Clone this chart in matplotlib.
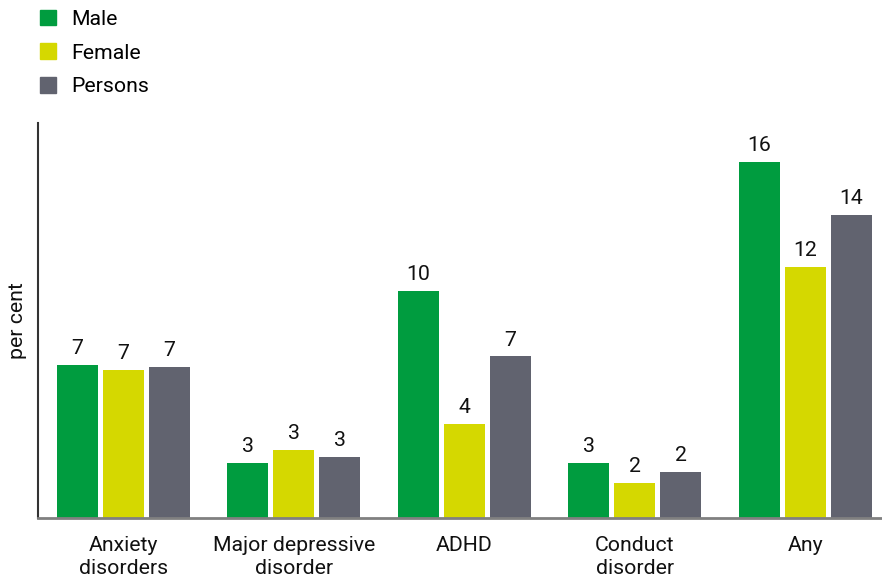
import matplotlib.pyplot as plt
import numpy as np
from matplotlib.patches import Patch

plt.rcParams['font.family'] = ['Roboto', 'DejaVu Sans']

# Data (per cent)
categories = ['Anxiety\ndisorders', 'Major depressive\ndisorder', 'ADHD', 'Conduct\ndisorder', 'Any']
male = [7.0, 2.5, 10.4, 2.5, 16.3]
female = [6.8, 3.1, 4.3, 1.6, 11.5]
persons = [6.9, 2.8, 7.4, 2.1, 13.9]

series = {'Male': male, 'Female': female, 'Persons': persons}
colors = ['#009c3f', '#d5d800', '#61636f']
fs = 15.3

fig = plt.figure(figsize=(8.82, 5.8), dpi=100)
ax = fig.add_axes([0.043, 0.107, 0.957, 0.681])

x = np.arange(len(categories))
bar_width = 0.24
step = 0.27

for i, (name, vals) in enumerate(series.items()):
    bars = ax.bar(x + (i - 1) * step, vals, bar_width, color=colors[i], label=name)
    labels = [str(int(np.floor(v + 0.5))) for v in vals]
    ax.bar_label(bars, labels=labels, padding=5, fontsize=fs, color='#111111')

ax.set_xlim(-0.501, 4.449)
ax.set_ylim(0, 18.1)
ax.set_xticks(x)
ax.set_xticklabels(categories, fontsize=fs, color='#111111', linespacing=1.25)
ax.set_yticks([])
ax.tick_params(axis='x', length=0, pad=13)
ax.set_ylabel('per cent', fontsize=fs, color='#111111', labelpad=8)

for s in ['top', 'right']:
    ax.spines[s].set_visible(False)
ax.spines['left'].set_color('#333333')
ax.spines['left'].set_linewidth(1.5)
ax.spines['bottom'].set_color('#808080')
ax.spines['bottom'].set_linewidth(2)

handles = [Patch(color=c, label=n) for n, c in zip(series.keys(), colors)]
fig.legend(handles=handles, loc='upper left', bbox_to_anchor=(0.024, 1.016),
           frameon=False, fontsize=fs, handlelength=0.75, handleheight=0.75,
           handletextpad=0.7, labelspacing=0.68)

fig.savefig('out.png', dpi=100)
